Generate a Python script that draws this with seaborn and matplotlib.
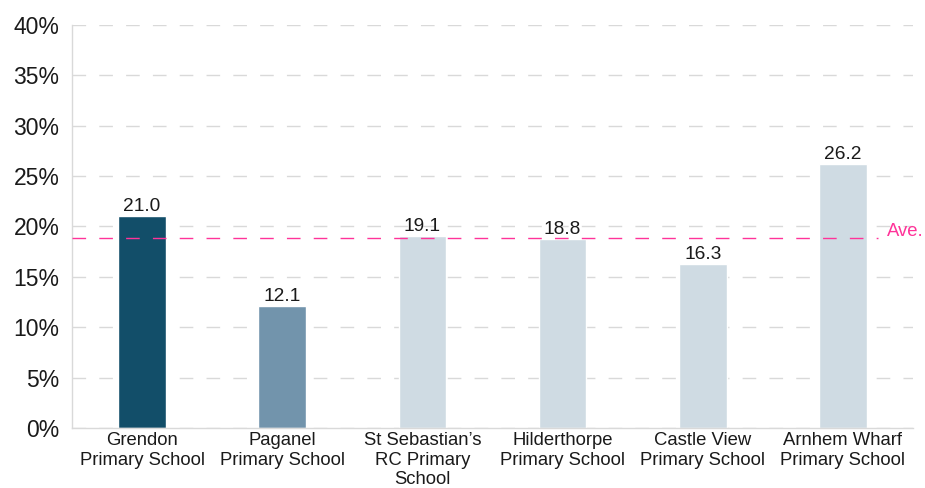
import matplotlib
matplotlib.use("Agg")
import matplotlib.pyplot as plt
import seaborn as sns
import pandas as pd
from matplotlib.ticker import FuncFormatter

schools = ["Grendon\nPrimary School", "Paganel\nPrimary School", "St Sebastian\u2019s\nRC Primary\nSchool",
           "Hilderthorpe\nPrimary School", "Castle View\nPrimary School", "Arnhem Wharf\nPrimary School"]
values = [21.0, 12.1, 19.1, 18.8, 16.3, 26.2]
colors = ["#124E69", "#7294AC", "#CFDBE3", "#CFDBE3", "#CFDBE3", "#CFDBE3"]
average = 18.9
yticks = [0, 5, 10, 15, 20, 25, 30, 35, 40]

sns.set_style("white")
plt.rcParams['font.family'] = ['Liberation Sans', 'DejaVu Sans']

df = pd.DataFrame({"school": schools, "value": values})

fig = plt.figure(figsize=(9.25, 4.88), dpi=100)
ax = fig.add_axes([72/925, 1-428/488, (913-72)/925, (428-25)/488])

sns.barplot(data=df, x="school", y="value", hue="school", palette=colors,
            width=0.34, ax=ax, legend=False, saturation=1)

ax.set_ylim(0, 40)
ax.set_xlim(-0.5, len(schools) - 0.5)
ax.set_yticks(yticks)
ax.yaxis.set_major_formatter(FuncFormatter(lambda v, p: f"{int(v)}%"))
ax.grid(axis="y", color="#D9D9D9", linestyle=(0, (9.8, 9.5)), linewidth=1)
ax.set_axisbelow(True)
for s in ["top", "right"]:
    ax.spines[s].set_visible(False)
for s in ["left", "bottom"]:
    ax.spines[s].set_color("#D9D9D9")
    ax.spines[s].set_linewidth(1)
ax.tick_params(axis="y", length=7, color="#D9D9D9", labelsize=16.5, labelcolor="#1a1a1a", pad=2)
ax.tick_params(axis="x", length=0, labelsize=13.3, labelcolor="#1a1a1a", pad=3)
ax.set_xlabel("")
ax.set_ylabel("")

for i, v in enumerate(values):
    ax.text(i, v + 0.1, f"{v:.1f}", ha="center", va="bottom", fontsize=13.8, color="#1a1a1a")

ax.plot([-0.5, 5.25], [average, average], color="#FF3399", linestyle=(0, (9.8, 9.5)), linewidth=1, zorder=3)
ax.text(5.315, average + 0.6, "Ave.", color="#FF3399", fontsize=13.3, va="center", ha="left")

fig.savefig("out.png", dpi=100)
